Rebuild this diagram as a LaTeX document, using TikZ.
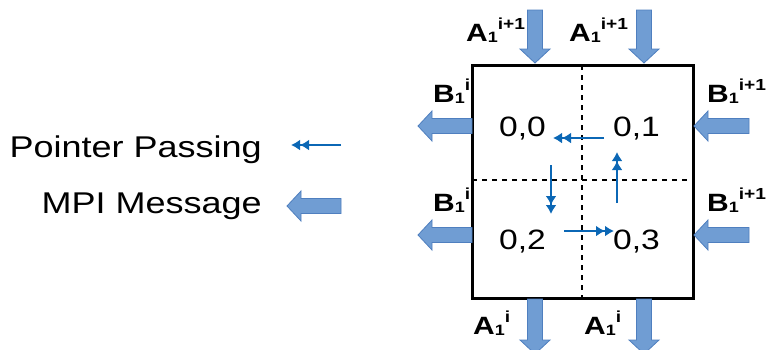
\documentclass[tikz,border=0pt]{standalone}
\usepackage{fontspec}
\setmainfont{Liberation Sans}
\usepackage{graphicx}
\usetikzlibrary{calc,arrows.meta}
\definecolor{mpifill}{HTML}{709DD3}
\definecolor{mpiedge}{HTML}{4F7FBF}
\definecolor{pblue}{HTML}{0B67B5}
\newcommand\stxt[2]{\scalebox{1.2}[1]{\fontsize{#1}{#1}\selectfont #2}}
\newcommand\lbl[3]{\scalebox{1.2}[1]{\fontsize{25}{25}\selectfont\bfseries #1\raisebox{-1pt}{\fontsize{15}{15}\selectfont #2}\raisebox{12pt}{\fontsize{16}{16}\selectfont #3}}}
\newcommand\barrow[2]{%
  \coordinate (#1h) at ($(#2)!14pt!(#1)$);
  \draw[mpi] ($(#1)!7.5pt!90:(#2)$) -- ($(#1h)!7.5pt!90:(#2)$) -- ($(#1h)!15pt!90:(#2)$) -- (#2)
    -- ($(#1h)!15pt!-90:(#2)$) -- ($(#1h)!7.5pt!-90:(#2)$) -- ($(#1)!7.5pt!-90:(#2)$) -- cycle;}
\tikzset{
  mpi/.style={fill=mpifill,draw=mpiedge,line width=0.8pt,line join=miter},
  ptr/.style={draw=pblue,line width=2.8pt,-{Latex[length=9pt,width=11pt]Latex[length=9pt,width=11pt]}},
  grid/.style={line width=2.5pt,dash pattern=on 5pt off 5pt},
  lab/.style={anchor=base west,inner sep=0pt},
}
\begin{document}
\begin{tikzpicture}[x=1pt,y=-1pt]
\useasboundingbox (0,0) rectangle (766,349);
% legend
\node[anchor=base east,inner sep=0pt] (lp) at (262,157) {\stxt{30}{Pointer Passing}};
\node[anchor=base east,inner sep=0pt] (lm) at (262,213) {\stxt{30}{MPI Message}};
\coordinate (lpt) at (341,145); \coordinate (lph) at (291,145);
\draw[ptr] (lpt) -- (lph);
\coordinate (lmt) at (341,206); \coordinate (lmh) at (287,206);
\barrow{lmt}{lmh}
% box
\coordinate (vt) at (582,65); \coordinate (vb) at (582,298);
\coordinate (hl) at (472,180); \coordinate (hr) at (693,180);
\draw[grid] (vt) -- (vb);
\draw[grid] (hl) -- (hr);
\draw[line width=3pt] (472,65) rectangle (693,298);
% cells
\node[lab] (c00) at (499,136) {\stxt{28}{0,0}};
\node[lab] (c01) at (613,136) {\stxt{28}{0,1}};
\node[lab] (c02) at (499,249) {\stxt{28}{0,2}};
\node[lab] (c03) at (613,249) {\stxt{28}{0,3}};
% pointer arrows
\coordinate (p1a) at (604,138); \coordinate (p1b) at (553,138);
\draw[ptr] (p1a) -- (p1b);
\coordinate (p2a) at (551,165); \coordinate (p2b) at (551,214);
\draw[ptr] (p2a) -- (p2b);
\coordinate (p3a) at (617,203); \coordinate (p3b) at (617,152);
\draw[ptr] (p3a) -- (p3b);
\coordinate (p4a) at (564,231); \coordinate (p4b) at (614,231);
\draw[ptr] (p4a) -- (p4b);
% MPI arrows top
\coordinate (t1a) at (535,10); \coordinate (t1b) at (535,63);
\barrow{t1a}{t1b}
\coordinate (t2a) at (644,10); \coordinate (t2b) at (644,63);
\barrow{t2a}{t2b}
% bottom
\coordinate (d1a) at (535,299); \coordinate (d1b) at (535,354);
\barrow{d1a}{d1b}
\coordinate (d2a) at (644,299); \coordinate (d2b) at (644,354);
\barrow{d2a}{d2b}
% left
\coordinate (l1a) at (472,126); \coordinate (l1b) at (418,126);
\barrow{l1a}{l1b}
\coordinate (l2a) at (472,235); \coordinate (l2b) at (418,235);
\barrow{l2a}{l2b}
% right
\coordinate (r1a) at (749,126); \coordinate (r1b) at (694,126);
\barrow{r1a}{r1b}
\coordinate (r2a) at (749,235); \coordinate (r2b) at (694,235);
\barrow{r2a}{r2b}
% labels
\node[lab] (la1) at (466,41) {\lbl{A}{1}{i+1}};
\node[lab] (la2) at (569,41) {\lbl{A}{1}{i+1}};
\node[lab] (lb1) at (433,102) {\lbl{B}{1}{i}};
\node[lab] (lb2) at (433,211) {\lbl{B}{1}{i}};
\node[lab] (lb3) at (707,102) {\lbl{B}{1}{i+1}};
\node[lab] (lb4) at (707,211) {\lbl{B}{1}{i+1}};
\node[lab] (la3) at (473,334) {\lbl{A}{1}{i}};
\node[lab] (la4) at (584,334) {\lbl{A}{1}{i}};
\end{tikzpicture}
\end{document}
